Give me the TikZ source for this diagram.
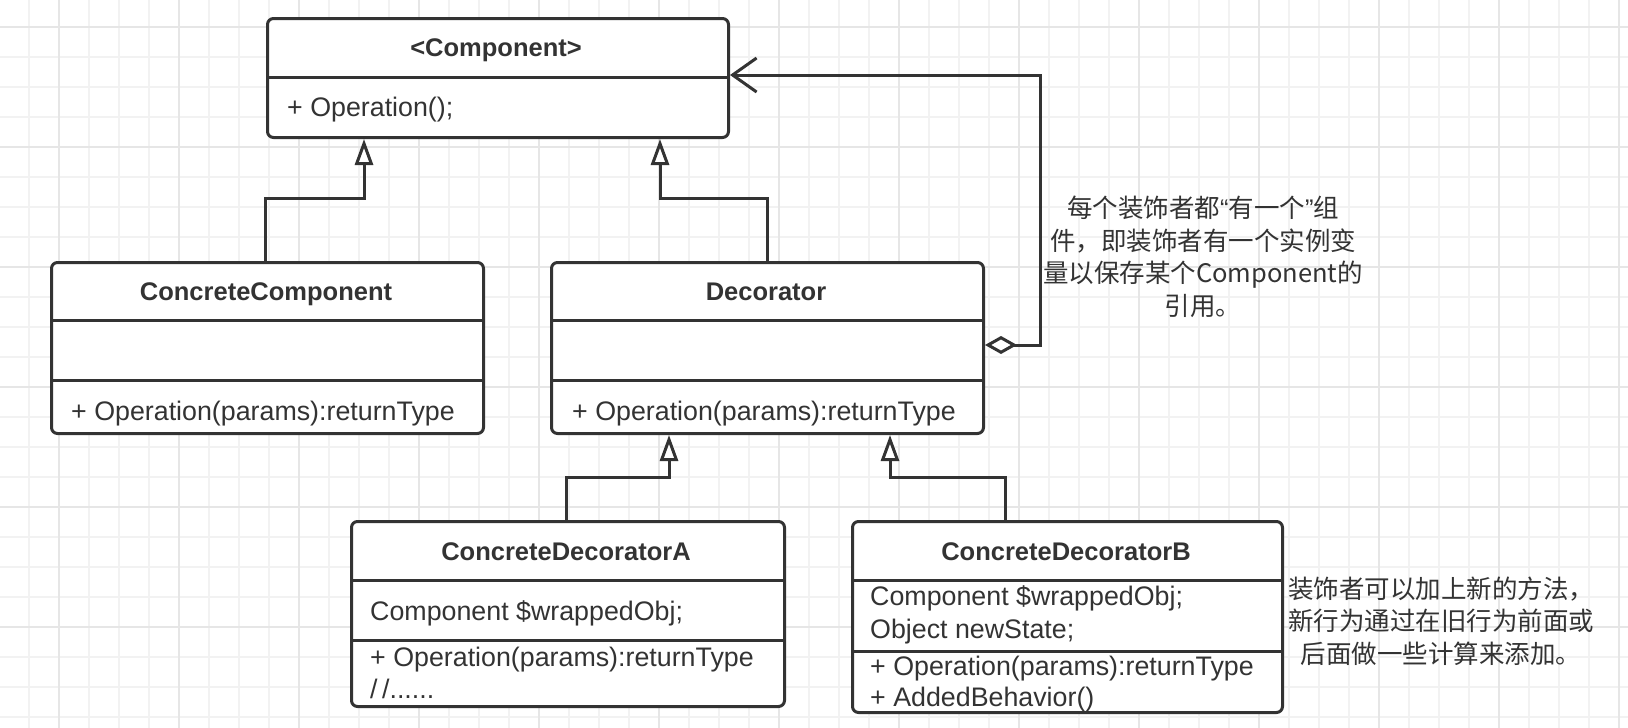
\documentclass[tikz,border=0pt]{standalone}
\usepackage{fontspec}
\setmainfont{Liberation Sans}
\newfontfamily\cjk{Noto Sans CJK SC}
\usetikzlibrary{arrows.meta}
\definecolor{ink}{HTML}{333333}
\definecolor{gridlight}{HTML}{F2F2F2}
\definecolor{griddark}{HTML}{E6E6E6}
\begin{document}
\begin{tikzpicture}[x=1pt,y=-1pt,
 umlbox/.style={draw=ink, line width=3pt, rounded corners=6pt, fill=white, anchor=north west, inner sep=0pt, rectangle},
 divider/.style={draw=ink, line width=3pt},
 title/.style={anchor=base, inner sep=0pt, text=ink, font=\fontsize{25.5}{30}\selectfont\bfseries},
 member/.style={anchor=base west, inner sep=0pt, text=ink, font=\fontsize{26.8}{33}\selectfont},
 inh/.style={draw=ink, line width=3pt, -{Triangle[fill=white, length=26pt, width=18pt]}},
 agg/.style={draw=ink, line width=3pt, {Diamond[fill=white, length=32pt, width=18pt]}-{Straight Barb[length=24pt, width=34pt]}},
 note/.style={align=center, inner sep=0pt, text=ink, font=\cjk\fontsize{25.5}{32.5}\selectfont},
 gl/.style={draw=gridlight, line width=1.5pt},
 gd/.style={draw=griddark, line width=1.5pt},
]
\useasboundingbox (0,0) rectangle (1628,728);
\fill[white] (0,0) rectangle (1628,728);
% grid
\foreach \x in {29,59,...,1619} \draw[gl] (\x,0) -- (\x,728);
\foreach \y in {27,57,...,717} \draw[gl] (0,\y) -- (1628,\y);
\foreach \x in {59,179,...,1619} \draw[gd] (\x,0) -- (\x,728);
\foreach \y in {27,147,...,717} \draw[gd] (0,\y) -- (1628,\y);

% boxes
\node[umlbox, minimum width=461pt, minimum height=119pt] (comp) at (266,17) {};
\node[umlbox, minimum width=432pt, minimum height=171pt] (cc) at (50,261) {};
\node[umlbox, minimum width=432pt, minimum height=171pt] (dec) at (550,261) {};
\node[umlbox, minimum width=433pt, minimum height=185pt] (cda) at (350,520) {};
\node[umlbox, minimum width=430pt, minimum height=191pt] (cdb) at (851,520) {};

% dividers
\draw[divider] (comp.west |- 0,77) -- (comp.east |- 0,77);
\draw[divider] (cc.west |- 0,320) -- (cc.east |- 0,320);
\draw[divider] (cc.west |- 0,380) -- (cc.east |- 0,380);
\draw[divider] (dec.west |- 0,320) -- (dec.east |- 0,320);
\draw[divider] (dec.west |- 0,380) -- (dec.east |- 0,380);
\draw[divider] (cda.west |- 0,580) -- (cda.east |- 0,580);
\draw[divider] (cda.west |- 0,640) -- (cda.east |- 0,640);
\draw[divider] (cdb.west |- 0,580) -- (cdb.east |- 0,580);
\draw[divider] (cdb.west |- 0,651) -- (cdb.east |- 0,651);

% texts
\node[title] (compT) at (496,56) {<Component>};
\node[member] (compM) at (287,116) {+ Operation();};
\node[title] (ccT) at (266,300) {ConcreteComponent};
\node[member] (ccM) at (71,420) {+ Operation(params):returnType};
\node[title] (decT) at (766,300) {Decorator};
\node[member] (decM) at (572,420) {+ Operation(params):returnType};
\node[title] (cdaT) at (566,560) {ConcreteDecoratorA};
\node[member] (cdaA) at (370,620) {Component \$wrappedObj;};
\node[member] (cdaM1) at (370,666) {+ Operation(params):returnType};
\node[member] (cdaM2) at (370,698) {/\,/......};
\node[title] (cdbT) at (1066,560) {ConcreteDecoratorB};
\node[member] (cdbA1) at (870,605) {Component \$wrappedObj;};
\node[member] (cdbA2) at (870,638) {Object newState;};
\node[member] (cdbM1) at (870,675) {+ Operation(params):returnType};
\node[member] (cdbM2) at (870,706) {+ AddedBehavior()};

% notes
\node[note] (note1) at (1203,257) {每个装饰者都{\rmfamily “}有一个{\rmfamily ”}组\\件，即装饰者有一个实例变\\量以保存某个Component的\\引用。};
\node[note] (note2) at (1441,621) {装饰者可以加上新的方法，\\新行为通过在旧行为前面或\\后面做一些计算来添加。};

% connectors
\draw[inh] (265,0 |- cc.north) |- (364,198) -- (364,0 |- comp.south);
\draw[inh] (767,0 |- dec.north) |- (660,198) -- (660,0 |- comp.south);
\draw[inh] (566,0 |- cda.north) |- (669,477) -- (669,0 |- dec.south);
\draw[inh] (1005,0 |- cdb.north) |- (890,477) -- (890,0 |- dec.south);
\draw[agg] (dec.east |- 0,345) -- (1040,345) |- (comp.east |- 0,75);
\end{tikzpicture}
\end{document}
